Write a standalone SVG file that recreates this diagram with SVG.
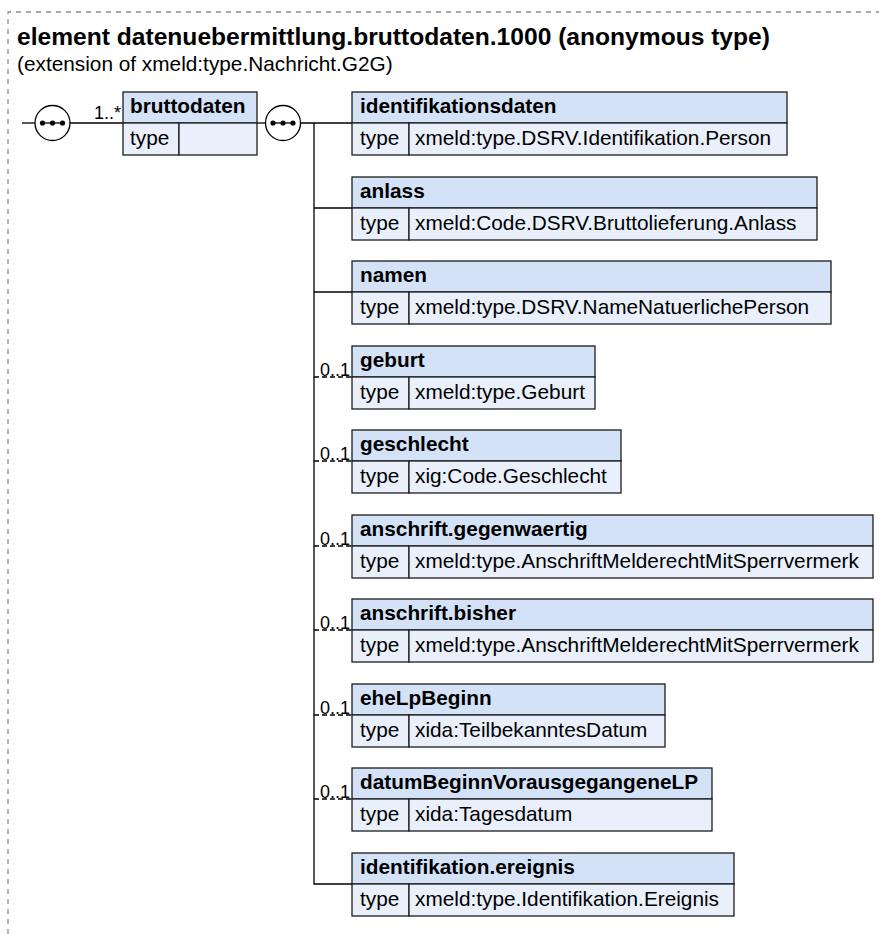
<svg xmlns="http://www.w3.org/2000/svg" width="879" height="934" viewBox="0 0 879 934">
<style>
.frame{fill:none;stroke:#8c8c8c;stroke-width:1.3;stroke-dasharray:5 5}
.hd{fill:#d4e2f7;stroke:#1c1c1c;stroke-width:1.3}
.rw{fill:#e9f0fb;stroke:#1c1c1c;stroke-width:1.3}
.t{font-family:"Liberation Sans",Arial,sans-serif;font-size:20.8px;fill:#000}
.b{font-weight:bold}
.title{font-family:"Liberation Sans",Arial,sans-serif;font-size:24.6px;font-weight:bold;fill:#000}
.sub{font-family:"Liberation Sans",Arial,sans-serif;font-size:20.8px;fill:#000}
.card{font-family:"Liberation Sans",Arial,sans-serif;font-size:18px;fill:#000;text-anchor:end}
.ln{fill:none;stroke:#000;stroke-width:1.3}
.opt{stroke-dasharray:5 3}
.comp{fill:#fff;stroke:#000;stroke-width:1.3}
.dot{fill:#000}
</style>
<path class="frame" d="M8 934 V12 H879"/>
<text class="title" x="17" y="45">element datenuebermittlung.bruttodaten.1000 (anonymous type)</text>
<text class="sub" x="17" y="71">(extension of xmeld:type.Nachricht.G2G)</text>

<g id="connectors">
<line class="ln" x1="22" y1="123" x2="35" y2="123"/>
<line class="ln" x1="70" y1="123" x2="123" y2="123"/>
<line class="ln" x1="257" y1="123" x2="265.5" y2="123"/>
<line class="ln" x1="300.5" y1="123" x2="352" y2="123"/>
<path class="ln" d="M314 123 V884 H352"/>
<line class="ln" x1="314" y1="208" x2="352" y2="208"/>
<line class="ln" x1="314" y1="292" x2="352" y2="292"/>
<line class="ln opt" x1="314" y1="377" x2="352" y2="377"/>
<line class="ln opt" x1="314" y1="461" x2="352" y2="461"/>
<line class="ln opt" x1="314" y1="546" x2="352" y2="546"/>
<line class="ln opt" x1="314" y1="630" x2="352" y2="630"/>
<line class="ln opt" x1="314" y1="715" x2="352" y2="715"/>
<line class="ln opt" x1="314" y1="799" x2="352" y2="799"/>
<text class="card" x="121" y="119">1..*</text>
<text class="card" x="350" y="376">0..1</text>
<text class="card" x="350" y="460">0..1</text>
<text class="card" x="350" y="545">0..1</text>
<text class="card" x="350" y="629">0..1</text>
<text class="card" x="350" y="714">0..1</text>
<text class="card" x="350" y="798">0..1</text>
</g>

<g id="sequence1">
<circle class="comp" cx="52.5" cy="123" r="17.5"/>
<line class="ln" x1="40.5" y1="123" x2="64.5" y2="123"/>
<circle class="dot" cx="42.5" cy="123" r="2.6"/><circle class="dot" cx="52.5" cy="123" r="2.6"/><circle class="dot" cx="62.5" cy="123" r="2.6"/>
</g>

<g id="bruttodaten">
<rect class="hd" x="123" y="92" width="134" height="31"/>
<rect class="rw" x="123" y="123" width="56" height="32"/>
<rect class="rw" x="179" y="123" width="78" height="32"/>
<text class="t b" x="130" y="113">bruttodaten</text>
<text class="t" x="130" y="145">type</text>
</g>

<g id="sequence2">
<circle class="comp" cx="283" cy="123" r="17.5"/>
<line class="ln" x1="271" y1="123" x2="295" y2="123"/>
<circle class="dot" cx="273" cy="123" r="2.6"/><circle class="dot" cx="283" cy="123" r="2.6"/><circle class="dot" cx="293" cy="123" r="2.6"/>
</g>

<g id="identifikationsdaten">
<rect class="hd" x="352" y="92" width="435" height="31"/>
<rect class="rw" x="352" y="123" width="57" height="32"/>
<rect class="rw" x="409" y="123" width="378" height="32"/>
<text class="t b" x="360" y="113">identifikationsdaten</text>
<text class="t" x="360" y="145">type</text>
<text class="t" x="415" y="145">xmeld:type.DSRV.Identifikation.Person</text>
</g>

<g id="anlass">
<rect class="hd" x="352" y="177" width="465" height="31"/>
<rect class="rw" x="352" y="208" width="57" height="32"/>
<rect class="rw" x="409" y="208" width="408" height="32"/>
<text class="t b" x="360" y="198">anlass</text>
<text class="t" x="360" y="230">type</text>
<text class="t" x="415" y="230">xmeld:Code.DSRV.Bruttolieferung.Anlass</text>
</g>

<g id="namen">
<rect class="hd" x="352" y="261" width="479" height="31"/>
<rect class="rw" x="352" y="292" width="57" height="32"/>
<rect class="rw" x="409" y="292" width="422" height="32"/>
<text class="t b" x="360" y="282">namen</text>
<text class="t" x="360" y="314">type</text>
<text class="t" x="415" y="314">xmeld:type.DSRV.NameNatuerlichePerson</text>
</g>

<g id="geburt">
<rect class="hd" x="352" y="346" width="243" height="31"/>
<rect class="rw" x="352" y="377" width="57" height="32"/>
<rect class="rw" x="409" y="377" width="186" height="32"/>
<text class="t b" x="360" y="367">geburt</text>
<text class="t" x="360" y="399">type</text>
<text class="t" x="415" y="399">xmeld:type.Geburt</text>
</g>

<g id="geschlecht">
<rect class="hd" x="352" y="430" width="269" height="31"/>
<rect class="rw" x="352" y="461" width="57" height="32"/>
<rect class="rw" x="409" y="461" width="212" height="32"/>
<text class="t b" x="360" y="451">geschlecht</text>
<text class="t" x="360" y="483">type</text>
<text class="t" x="415" y="483">xig:Code.Geschlecht</text>
</g>

<g id="anschrift.gegenwaertig">
<rect class="hd" x="352" y="515" width="521" height="31"/>
<rect class="rw" x="352" y="546" width="57" height="32"/>
<rect class="rw" x="409" y="546" width="464" height="32"/>
<text class="t b" x="360" y="536">anschrift.gegenwaertig</text>
<text class="t" x="360" y="568">type</text>
<text class="t" x="415" y="568">xmeld:type.AnschriftMelderechtMitSperrvermerk</text>
</g>

<g id="anschrift.bisher">
<rect class="hd" x="352" y="599" width="521" height="31"/>
<rect class="rw" x="352" y="630" width="57" height="32"/>
<rect class="rw" x="409" y="630" width="464" height="32"/>
<text class="t b" x="360" y="620">anschrift.bisher</text>
<text class="t" x="360" y="652">type</text>
<text class="t" x="415" y="652">xmeld:type.AnschriftMelderechtMitSperrvermerk</text>
</g>

<g id="eheLpBeginn">
<rect class="hd" x="352" y="684" width="313" height="31"/>
<rect class="rw" x="352" y="715" width="57" height="32"/>
<rect class="rw" x="409" y="715" width="256" height="32"/>
<text class="t b" x="360" y="705">eheLpBeginn</text>
<text class="t" x="360" y="737">type</text>
<text class="t" x="415" y="737">xida:TeilbekanntesDatum</text>
</g>

<g id="datumBeginnVorausgegangeneLP">
<rect class="hd" x="352" y="768" width="360" height="31"/>
<rect class="rw" x="352" y="799" width="57" height="32"/>
<rect class="rw" x="409" y="799" width="303" height="32"/>
<text class="t b" x="360" y="789">datumBeginnVorausgegangeneLP</text>
<text class="t" x="360" y="821">type</text>
<text class="t" x="415" y="821">xida:Tagesdatum</text>
</g>

<g id="identifikation.ereignis">
<rect class="hd" x="352" y="853" width="382" height="31"/>
<rect class="rw" x="352" y="884" width="57" height="32"/>
<rect class="rw" x="409" y="884" width="325" height="32"/>
<text class="t b" x="360" y="874">identifikation.ereignis</text>
<text class="t" x="360" y="906">type</text>
<text class="t" x="415" y="906">xmeld:type.Identifikation.Ereignis</text>
</g>
</svg>
